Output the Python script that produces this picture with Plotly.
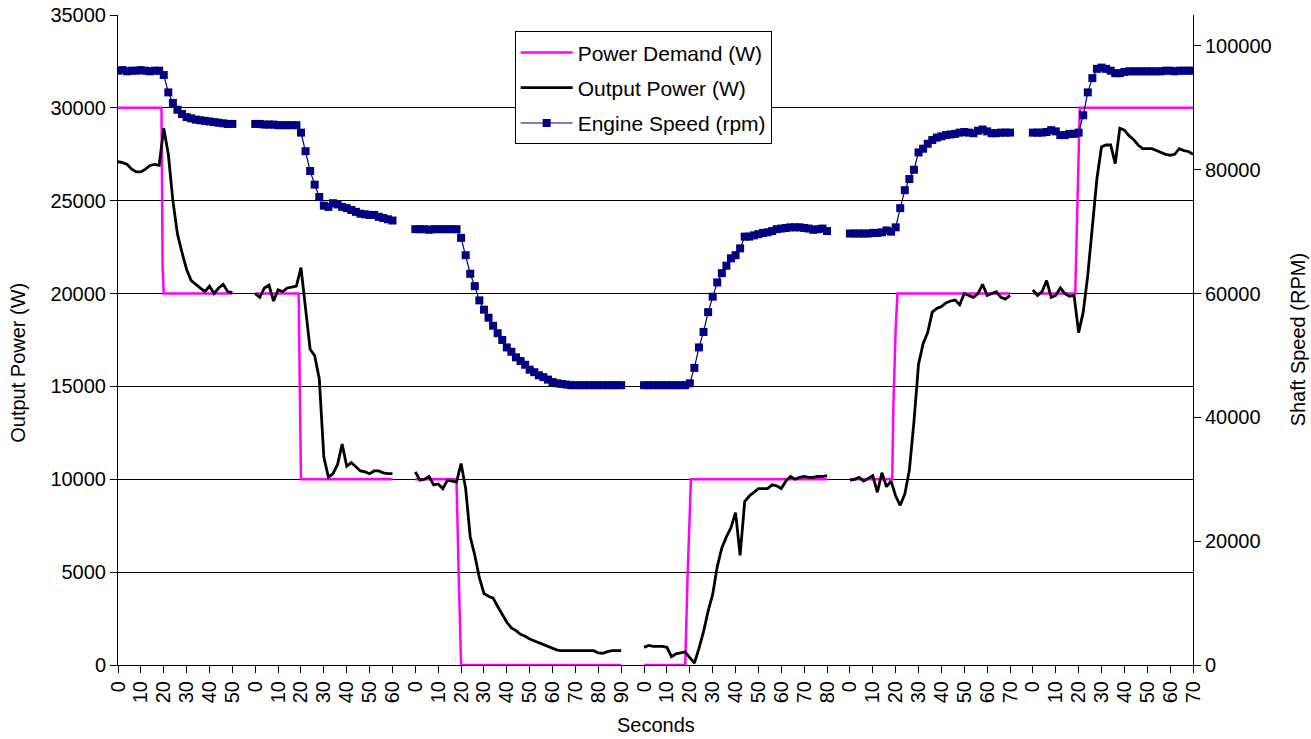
import plotly.graph_objects as go

FONT = "Liberation Sans, Arial, sans-serif"

# Category slots reserved on the time axis for each run (1 slot = 1 s)
SEG_SLOTS = [60, 70, 100, 90, 80, 71]

# Second labels printed under each run
SEG_TICKS = [
    [0, 10, 20, 30, 40, 50],
    [0, 10, 20, 30, 40, 50, 60],
    [0, 10, 20, 30, 40, 50, 60, 70, 80, 90],
    [0, 10, 20, 30, 40, 50, 60, 70, 80],
    [0, 10, 20, 30, 40, 50, 60, 70],
    [0, 10, 20, 30, 40, 50, 60, 70],
]

# Power demand step profile: corner times (s) and set-points (W) per run
DEMAND_T = [
    [0, 19, 19.5, 20, 50],
    [0, 19, 19.5, 20, 60],
    [0, 18, 19, 20, 90],
    [0, 18, 19, 20, 20.5, 80],
    [0, 18.5, 19, 20, 20.8, 70],
    [0, 18.5, 19, 20, 20.5, 70],
]
DEMAND_W = [
    [30000, 30000, 21500, 20000, 20000],
    [20000, 20000, 14700, 10000, 10000],
    [10000, 10000, 4600, 0, 0],
    [0, 0, 4700, 9000, 10000, 10000],
    [10000, 10000, 13900, 18100, 20000, 20000],
    [20000, 20000, 22400, 26800, 30000, 30000],
]

SAMPLE_STEP = 2  # s between logged samples of output power and shaft speed

# Measured electrical output power (W), one list per run
OUTPUT_W = [
    [27100, 27050, 26950, 26700, 26550, 26550, 26700, 26900, 26950, 26900,
     28900, 27500, 25000, 23200, 22200, 21300, 20700, 20500, 20300, 20100,
     20400, 20000, 20300, 20500, 20100, 20050],
    [20000, 19800, 20300, 20450, 19600, 20200, 20100, 20300, 20350, 20400,
     21400, 19100, 17000, 16650, 15400, 11200, 10100, 10300, 10800, 11900,
     10700, 10900, 10700, 10450, 10400, 10300, 10450, 10450, 10350, 10300,
     10300],
    [10400, 9950, 10000, 10150, 9700, 9750, 9500, 9950, 9900, 9850,
     10850, 9500, 6900, 5900, 4700, 3850, 3700, 3600, 3150, 2700,
     2300, 2000, 1850, 1650, 1550, 1400, 1300, 1200, 1100, 1000,
     900, 800, 770, 770, 770, 770, 770, 770, 770, 770,
     650, 630, 720, 770, 770, 770],
    [950, 1050, 1000, 1000, 1000, 950, 450, 600, 650, 700,
     400, 100, 900, 1800, 2900, 3800, 5300, 6300, 6900, 7400,
     8200, 5900, 8800, 9100, 9300, 9500, 9500, 9500, 9700, 9650,
     9500, 9900, 10150, 10000, 10100, 10150, 10100, 10100, 10150, 10150,
     10200],
    [9950, 10000, 10100, 9900, 10050, 10200, 9300, 10350, 9600, 9900,
     9100, 8600, 9200, 10500, 13100, 16200, 17300, 17900, 19000, 19200,
     19300, 19500, 19600, 19650, 19400, 20000, 19900, 19800, 20000, 20500,
     19900, 20000, 20100, 19800, 19700, 19900],
    [20200, 19900, 20100, 20700, 19800, 19900, 20300, 20000, 19850, 19900,
     17900, 19000, 21000, 23600, 26200, 27900, 28000, 28000, 27000, 28900,
     28800, 28500, 28300, 28000, 27800, 27800, 27800, 27700, 27600, 27500,
     27450, 27500, 27800, 27700, 27650, 27500],
]

# Engine shaft speed (rpm), one list per run
ENGINE_RPM = [
    [96000, 96100, 95900, 96000, 96000, 96100, 96000, 95900, 96000, 96000,
     95300, 92500, 90800, 89700, 89000, 88500, 88300, 88100, 88000, 87900,
     87800, 87700, 87600, 87500, 87400, 87400],
    [87400, 87400, 87300, 87300, 87300, 87200, 87200, 87200, 87200, 87200,
     86000, 83000, 79800, 77600, 75600, 74200, 74000, 74600, 74400, 74000,
     73800, 73500, 73200, 72900, 72800, 72700, 72700, 72400, 72200, 72000,
     71800],
    [70400, 70400, 70400, 70300, 70400, 70400, 70400, 70400, 70400, 70400,
     69000, 66200, 63200, 61200, 58900, 57400, 56100, 54800, 53600, 52500,
     51300, 50600, 49700, 49100, 48500, 47700, 47300, 46800, 46500, 46100,
     45700, 45500, 45400, 45300, 45200, 45200, 45200, 45200, 45200, 45200,
     45200, 45200, 45200, 45200, 45200, 45200],
    [45200, 45200, 45200, 45200, 45200, 45200, 45200, 45200, 45200, 45200,
     45500, 48000, 51300, 53800, 57000, 59500, 61800, 63300, 64500, 65700,
     66200, 67300, 69200, 69200, 69400, 69600, 69800, 69900, 70100, 70400,
     70500, 70600, 70700, 70700, 70700, 70600, 70500, 70300, 70400, 70500,
     70100],
    [69700, 69700, 69700, 69700, 69700, 69800, 69800, 69900, 70200, 70000,
     70700, 73800, 76700, 78500, 80000, 82800, 83400, 84200, 84800, 85200,
     85400, 85600, 85700, 85800, 86000, 86100, 86000, 85900, 86300, 86500,
     86200, 85900, 85900, 86000, 86000, 86000],
    [86000, 86000, 86000, 86100, 86400, 86200, 85600, 85600, 85800, 85800,
     86000, 88800, 92500, 94800, 96300, 96500, 96300, 96000, 95600, 95600,
     95800, 95900, 95900, 95900, 95900, 95900, 95900, 95900, 95900, 96000,
     96000, 95900, 96000, 96000, 96000, 96000],
]

# Start slot of every run on the shared time axis
offsets = []
pos = 0
for n in SEG_SLOTS:
    offsets.append(pos)
    pos += n
axis_end = offsets[-1] + SEG_TICKS[-1][-1]


def chain(times_per_run, values_per_run):
    """Place every run at its offset and break the line between runs."""
    xs, ys = [], []
    for off, ts, vs in zip(offsets, times_per_run, values_per_run):
        xs += [off + t for t in ts] + [None]
        ys += list(vs) + [None]
    return xs, ys


sample_times = [[i * SAMPLE_STEP for i in range(len(v))] for v in OUTPUT_W]
speed_times = [[i * SAMPLE_STEP for i in range(len(v))] for v in ENGINE_RPM]

dx, dy = chain(DEMAND_T, DEMAND_W)
ox, oy = chain(sample_times, OUTPUT_W)
ex, ey = chain(speed_times, ENGINE_RPM)

tickvals, ticktext = [], []
for off, ticks in zip(offsets, SEG_TICKS):
    for s in ticks:
        tickvals.append(off + s)
        ticktext.append(str(s))

fig = go.Figure()
fig.add_trace(go.Scatter(
    x=dx, y=dy, mode="lines", name="Power Demand (W)",
    line=dict(color="#FF00FF", width=2.5), legendgroup="a",
))
fig.add_trace(go.Scatter(
    x=ox, y=oy, mode="lines", name="Output Power (W)",
    line=dict(color="#000000", width=2.8), legendgroup="b",
))
fig.add_trace(go.Scatter(
    x=ex, y=ey, mode="lines+markers", name="Engine Speed (rpm)", yaxis="y2",
    line=dict(color="#000080", width=1.2),
    marker=dict(symbol="square", size=8, color="#000080"),
    legendgroup="c",
))

axis_common = dict(
    showline=True, linecolor="black", linewidth=1,
    ticks="outside", ticklen=7, tickcolor="black", tickwidth=1,
    zeroline=False, automargin=False,
    tickfont=dict(family=FONT, size=20, color="black"),
)

fig.update_layout(
    width=1311, height=739,
    margin=dict(l=118, r=118, t=15, b=74, pad=0),
    paper_bgcolor="white", plot_bgcolor="white",
    font=dict(family=FONT, color="black"),
    xaxis=dict(
        range=[0, axis_end], tickmode="array", tickvals=tickvals,
        ticktext=ticktext, tickangle=-90, showgrid=False, **axis_common,
    ),
    yaxis=dict(
        range=[0, 35000], tick0=0, dtick=5000, tickformat="d",
        showgrid=True, gridcolor="black", gridwidth=1, **axis_common,
    ),
    yaxis2=dict(
        range=[0, 105000], overlaying="y", side="right",
        tickmode="array", tickvals=[0, 20000, 40000, 60000, 80000, 100000],
        tickformat="d", showgrid=False, **axis_common,
    ),
    legend=dict(
        x=0.369, y=0.975, xanchor="left", yanchor="top",
        bgcolor="white", bordercolor="black", borderwidth=1,
        font=dict(family=FONT, size=21, color="black"),
        tracegroupgap=5, traceorder="grouped",
        itemwidth=52,
    ),
    showlegend=True,
    annotations=[
        dict(text="Seconds", xref="paper", yref="paper", x=0.5, y=-0.092,
             xanchor="center", yanchor="middle", showarrow=False,
             font=dict(family=FONT, size=20, color="black")),
        dict(text="Output Power (W)", xref="paper", yref="paper",
             x=-0.093, y=0.465, xanchor="center", yanchor="middle",
             textangle=-90, showarrow=False,
             font=dict(family=FONT, size=20, color="black")),
        dict(text="Shaft Speed (RPM)", xref="paper", yref="paper",
             x=1.098, y=0.5, xanchor="center", yanchor="middle",
             textangle=-90, showarrow=False,
             font=dict(family=FONT, size=20, color="black")),
    ],
)

fig.write_html("out.html")
